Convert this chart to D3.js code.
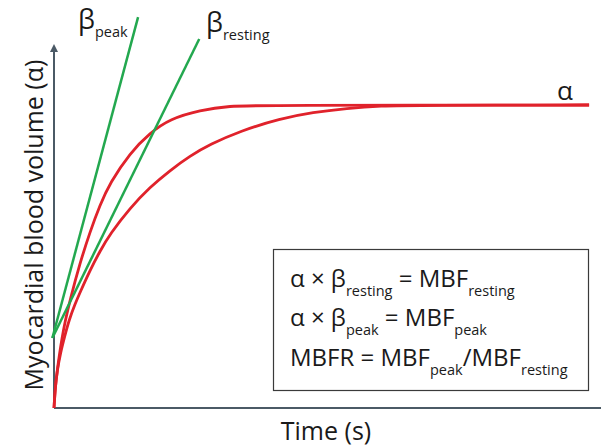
<!DOCTYPE html>
<html lang="en">
<head>
<meta charset="UTF-8">
<title>Myocardial blood volume vs time</title>
<script src="https://cdnjs.cloudflare.com/ajax/libs/d3/7.8.5/d3.min.js"></script>
<style>
  body { margin: 0; background: #fff; }
  svg text { font-family: "Open Sans", sans-serif; fill: #1a1a1a; }
</style>
</head>
<body>
<div id="chart"></div>
<script>
// time in arbitrary units (0-100), volume relative to plateau alpha (=1)
const timeFast = [0, 0.24, 0.60, 1.01, 1.47, 2.01, 2.93, 4.76, 6.59, 8.42, 10.26, 13.92, 17.58, 21.25, 26.74, 32.23, 37.73, 98];
const volFast  = [0, 0.069, 0.125, 0.178, 0.231, 0.284, 0.356, 0.479, 0.581, 0.670, 0.743, 0.842, 0.908, 0.954, 0.983, 0.997, 0.999, 1.0];

const timeSlow = [0, 0.24, 0.60, 1.19, 1.92, 2.75, 3.85, 4.76, 6.59, 8.42, 10.26, 13.92, 17.58, 21.25, 24.91, 28.57, 34.07, 41.39, 47.44, 53.66, 59.71, 67.03, 98];
const volSlow  = [0, 0.069, 0.125, 0.182, 0.234, 0.290, 0.343, 0.381, 0.454, 0.518, 0.574, 0.660, 0.729, 0.784, 0.832, 0.870, 0.914, 0.955, 0.976, 0.989, 0.997, 0.999, 1.0];

// tangent lines (start / end points)
const betaPeakT = [-0.3, 15.4];
const betaPeakV = [0.231, 1.29];
const betaRestT = [-0.3, 26.6];
const betaRestV = [0.231, 1.218];

const width = 601, height = 446;
const red = "#e0222b", green = "#23a84f", axisCol = "#4b5a66";

const svg = d3.select("#chart").append("svg")
    .attr("width", width).attr("height", height);

const x = d3.scaleLinear().domain([0, 100]).range([54, 600]);
const y = d3.scaleLinear().domain([0, 1]).range([408, 105]);

// axes
svg.append("defs").append("marker")
    .attr("id", "arrow").attr("viewBox", "0 0 10 10")
    .attr("refX", 2).attr("refY", 5)
    .attr("markerWidth", 5).attr("markerHeight", 4)
    .attr("orient", "auto")
  .append("path").attr("d", "M0,0 L10,5 L0,10 z").attr("fill", axisCol);

svg.append("line")
    .attr("x1", x(0)).attr("y1", y(0)).attr("x2", x(0)).attr("y2", y(1.18))
    .attr("stroke", axisCol).attr("stroke-width", 2)
    .attr("marker-end", "url(#arrow)");
svg.append("line")
    .attr("x1", x(0)).attr("y1", y(0)).attr("x2", x(100) + 4).attr("y2", y(0))
    .attr("stroke", axisCol).attr("stroke-width", 2);

const line = d3.line().x(d => x(d[0])).y(d => y(d[1])).curve(d3.curveBasis);

function drawCurve(ts, vs, col, w) {
    svg.append("path")
        .datum(d3.zip(ts, vs))
        .attr("fill", "none").attr("stroke", col).attr("stroke-width", w)
        .attr("d", line);
}
drawCurve(timeSlow, volSlow, red, 2.8);
drawCurve(timeFast, volFast, red, 2.8);

const straight = d3.line().x(d => x(d[0])).y(d => y(d[1]));
[[betaPeakT, betaPeakV], [betaRestT, betaRestV]].forEach(([ts, vs]) => {
    svg.append("path")
        .datum(d3.zip(ts, vs))
        .attr("fill", "none").attr("stroke", green).attr("stroke-width", 2.5)
        .attr("d", straight);
});

// labels
function subLabel(px, py, main, sub, size, subSize) {
    const t = svg.append("text").attr("x", px).attr("y", py).style("font-size", size + "px");
    t.append("tspan").text(main);
    t.append("tspan").attr("dy", 8).style("font-size", subSize + "px").text(sub);
    return t;
}
subLabel(78, 29, "β", "peak", 27, 14.5);
subLabel(206, 32, "β", "resting", 27, 14.5);

svg.append("text").attr("x", 565).attr("y", 100)
    .attr("text-anchor", "middle").style("font-size", "26px").text("α");

svg.append("text")
    .attr("transform", `translate(43,${225}) rotate(-90)`)
    .attr("text-anchor", "middle").style("font-size", "25px")
    .text("Myocardial blood volume (α)");

svg.append("text").attr("x", 326).attr("y", 440)
    .attr("text-anchor", "middle").style("font-size", "25px")
    .text("Time (s)");

// equation box
svg.append("rect").attr("x", 273.5).attr("y", 249.5).attr("width", 315).attr("height", 141)
    .attr("fill", "#fff").attr("stroke", "#3a3a3a").attr("stroke-width", 1.2);

const eqLines = [
    [["α × β", 0], ["resting", 1], [" = MBF", 0], ["resting", 1]],
    [["α × β", 0], ["peak", 1], [" = MBF", 0], ["peak", 1]],
    [["MBFR = MBF", 0], ["peak", 1], ["/MBF", 0], ["resting", 1]]
];
const eqY = [287, 326, 366];
eqLines.forEach((parts, i) => {
    const t = svg.append("text").attr("x", 290).attr("y", eqY[i]).style("font-size", "24px");
    let prev = 0;
    parts.forEach(([s, isSub]) => {
        t.append("tspan")
            .attr("dy", isSub ? (prev ? 0 : 9) : (prev ? -9 : 0))
            .style("font-size", isSub ? "14.5px" : "24px")
            .text(s);
        prev = isSub;
    });
});
</script>
</body>
</html>
